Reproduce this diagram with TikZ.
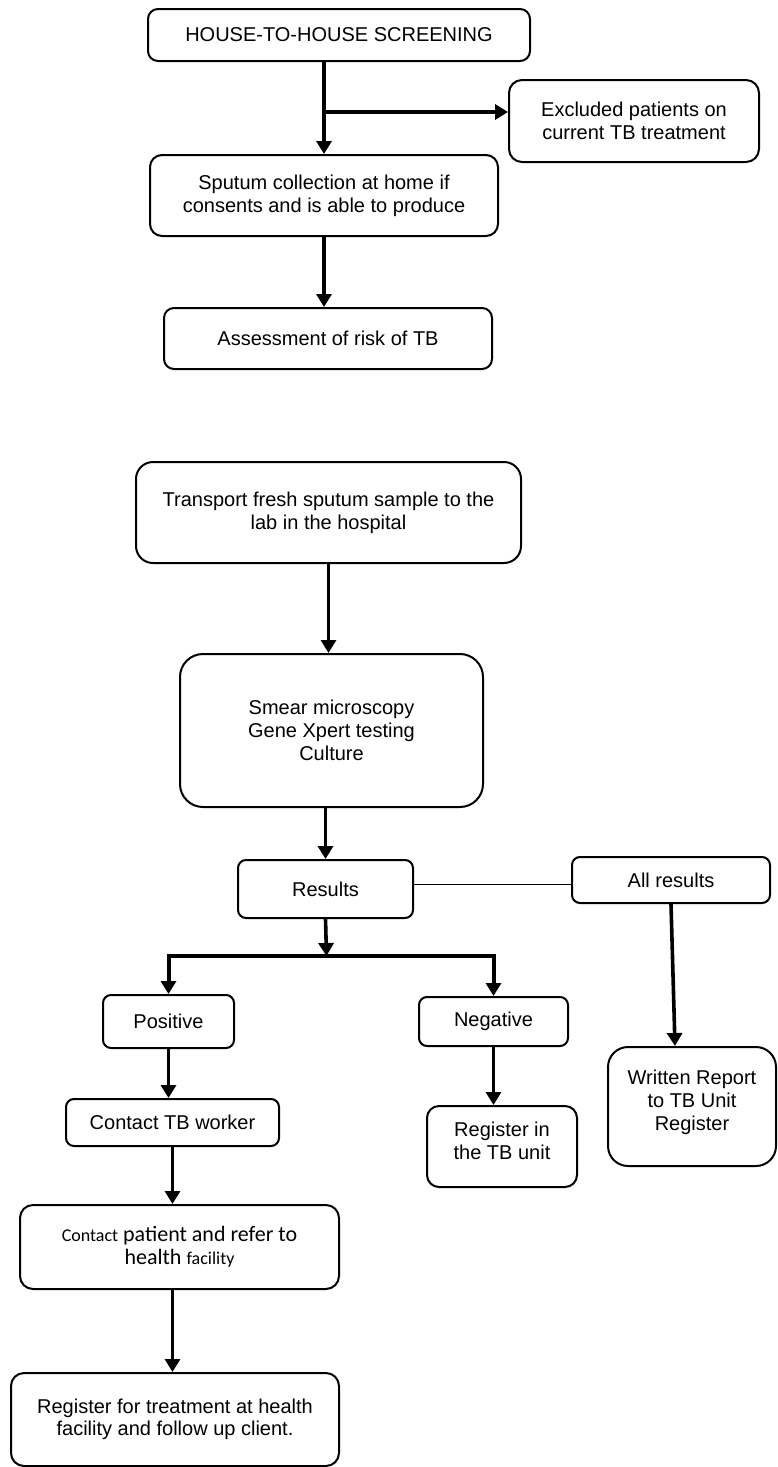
\documentclass[tikz,border=0pt]{standalone}
\usepackage{fontspec}
\setmainfont{Liberation Sans}
\newfontfamily\calibrifont{Carlito}
\usetikzlibrary{arrows.meta}
\tikzset{
    box/.style={draw,line width=2pt,rounded corners=10pt,align=center,inner sep=0pt,
        font=\fontsize{20}{23}\selectfont},
    arr/.style={line width=3.6pt,-{Triangle[length=13pt,width=15pt]}},
}
\newcommand{\smallcal}[1]{{\fontsize{18}{23}\selectfont #1}}
\begin{document}
\begin{tikzpicture}[x=1pt,y=-1pt]
        \useasboundingbox (0,0) rectangle (777,1467);

        \node[box,minimum width=382pt,minimum height=52pt] (screen) at (339,35) {HOUSE-TO-HOUSE SCREENING};
        \node[box,rounded corners=13pt,minimum width=250pt,minimum height=82pt] (excluded) at (634,121) {Excluded patients on\\current TB treatment};
        \node[box,rounded corners=12pt,minimum width=348pt,minimum height=81pt] (sputum) at (324,195.5) {Sputum collection at home if\\consents and is able to produce};
        \node[box,minimum width=328pt,minimum height=61pt] (risk) at (328,338.5) {Assessment of risk of TB};

        \node[box,rounded corners=17pt,minimum width=385pt,minimum height=101pt] (transport) at (328.5,512.5) {Transport fresh sputum sample to the\\lab in the hospital};
        \node[box,rounded corners=23pt,minimum width=303pt,minimum height=153pt] (lab) at (331.5,730.5) {Smear microscopy\\Gene Xpert testing\\Culture};
        \node[box,rounded corners=8pt,minimum width=175pt,minimum height=58pt] (results) at (325.5,889) {Results};
        \node[box,rounded corners=8pt,minimum width=198pt,minimum height=46pt] (allresults) at (671,880) {All results};
        \node[box,rounded corners=8pt,minimum width=131pt,minimum height=53pt] (positive) at (168.5,1021.5) {Positive};
        \node[box,rounded corners=8pt,minimum width=149pt,minimum height=49pt] (negative) at (493.5,1021.5) {Negative};
        \node[box,rounded corners=12pt,minimum width=150pt,minimum height=81pt] (tbunit) at (502,1146.5) {Register in\\the TB unit\\[-11pt]};
        \node[box,rounded corners=20pt,minimum width=168pt,minimum height=119pt] (report) at (692,1106.5) {Written Report\\to TB Unit\\Register\\[-11pt]};
        \node[box,rounded corners=8pt,minimum width=213pt,minimum height=47pt] (worker) at (172.5,1122.5) {Contact TB worker};
        \node[box,rounded corners=13pt,minimum width=319pt,minimum height=84pt,
            font=\calibrifont\fontsize{22}{23}\selectfont] (refer) at (179.5,1247) {\smallcal{Contact} patient and refer to\\health \smallcal{facility}};
        \node[box,rounded corners=13pt,minimum width=328pt,minimum height=93pt,
            font=\fontsize{20}{22}\selectfont] (treatment) at (175,1419.5) {Register for treatment at health\\facility and follow up client.};

        \coordinate (split) at (322,112);
        \coordinate (fork) at (326.5,956);

        \draw[arr] (sputum.north |- screen.south) -- (sputum.north);
        \draw[arr] (split) -- (split -| excluded.west);
        \draw[arr] (sputum.south) -- (sputum.south |- risk.north);

        \draw[arr] (transport.south) -- (transport.south |- lab.north);
        \draw[arr] (results.north |- lab.south) -- (results.north);
        \draw[arr] (results.south) -- (fork);
        \draw[arr,line width=4pt] (fork) -| (positive.north);
        \draw[arr,line width=4pt] (fork) -| (negative.north);
        \draw[line width=0.9pt] ([yshift=5pt]results.east) -- ([yshift=5pt]results.east -| allresults.west);
        \draw[arr] (allresults.south) -- ([xshift=-17pt]report.north);

        \draw[arr] (positive.south) -- (positive.south |- worker.north);
        \draw[arr] (negative.south) -- (negative.south |- tbunit.north);
        \draw[arr] (worker.south) -- (worker.south |- refer.north);
        \draw[arr] (worker.south |- refer.south) -- (worker.south |- treatment.north);
\end{tikzpicture}
\end{document}
